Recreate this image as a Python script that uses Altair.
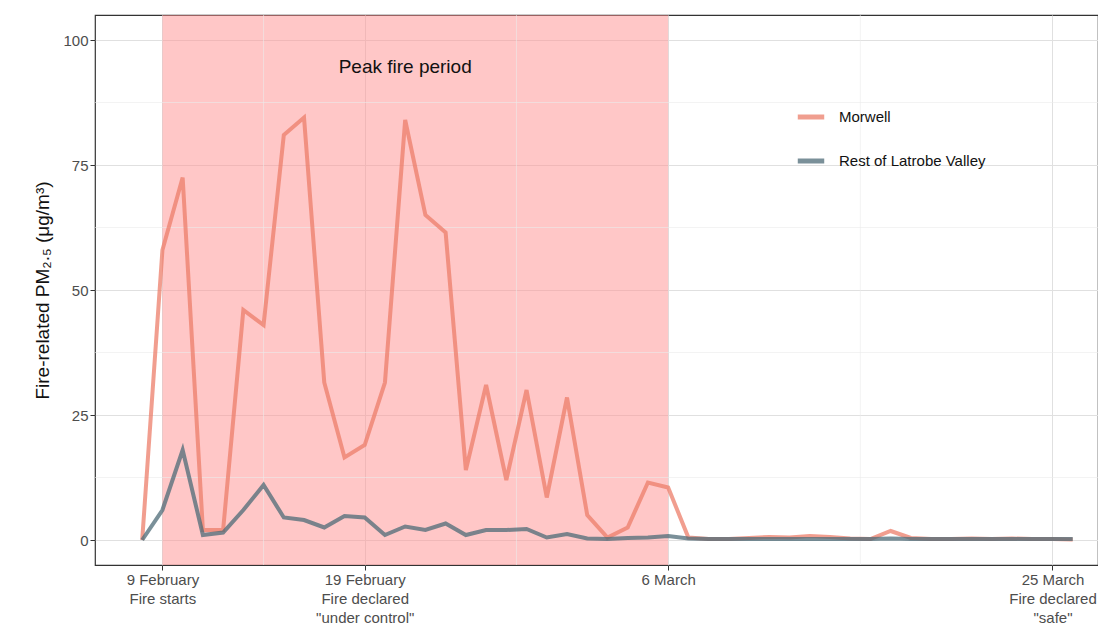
import pandas as pd
import altair as alt

# Daily fire-related PM2.5, 8 Feb - 26 Mar 2014
dates = pd.date_range('2014-02-08', '2014-03-26', freq='D').strftime('%Y-%m-%d').tolist()

morwell = [0, 58, 72.5, 2, 2, 46, 43, 81, 84.5, 31.5, 16.5, 19, 31.5, 84, 65, 61.5,
           14, 31, 12, 30, 8.5, 28.5, 5, 0.5, 2.5, 11.5, 10.5,
           0.5, 0.2, 0.2, 0.4, 0.6, 0.5, 0.8, 0.6, 0.3, 0.2, 1.8, 0.4, 0.2, 0.2,
           0.3, 0.2, 0.3, 0.2, 0.2, 0.1]
rest = [0, 6, 18, 1, 1.5, 6, 11, 4.5, 4, 2.5, 4.8, 4.5, 1, 2.7, 2, 3.3,
        1, 2, 2, 2.2, 0.5, 1.2, 0.3, 0.2, 0.4, 0.5, 0.8,
        0.3, 0.2, 0.2, 0.2, 0.2, 0.2, 0.2, 0.2, 0.2, 0.2, 0.3, 0.2, 0.2, 0.2,
        0.2, 0.2, 0.2, 0.2, 0.2, 0.2]

series = ['Morwell', 'Rest of Latrobe Valley']
colors = ['#EC7E6A', '#4E6B77']

minor_dates = ['2014-02-14', '2014-02-26T12:00', '2014-03-15T12:00']
y_minor = [12.5, 37.5, 62.5, 87.5]

df = pd.DataFrame({
    'date': dates * 2,
    'pm': morwell + rest,
    'series': [series[0]] * len(dates) + [series[1]] * len(dates),
})

x_dom = [alt.DateTime(year=2014, month=2, date=5, hours=16),
         alt.DateTime(year=2014, month=3, date=27, hours=6)]
x_scale = alt.Scale(domain=x_dom)
y_scale = alt.Scale(domain=[-5, 105], nice=False)

label_expr = (
    "utcFormat(datum.value, '%m-%d') == '02-09' ? ['9 February', 'Fire starts'] : "
    "utcFormat(datum.value, '%m-%d') == '02-19' ? ['19 February', 'Fire declared', '\"under control\"'] : "
    "utcFormat(datum.value, '%m-%d') == '03-06' ? ['6 March'] : "
    "['25 March', 'Fire declared', '\"safe\"']"
)

shade = alt.Chart(pd.DataFrame({'s': ['2014-02-09'], 'e': ['2014-03-06']})).mark_rect(
    color='#FF8F8F', opacity=0.5
).encode(
    x=alt.X('s:T', scale=x_scale), x2='e:T',
    y=alt.value(0), y2=alt.value(550)
)

minor_x = alt.Chart(pd.DataFrame({'d': minor_dates})).mark_rule(
    color='#ebebeb', strokeWidth=0.6
).encode(x=alt.X('d:T', scale=x_scale))

minor_y = alt.Chart(pd.DataFrame({'v': y_minor})).mark_rule(
    color='#ebebeb', strokeWidth=0.6
).encode(y=alt.Y('v:Q', scale=y_scale))

lines = alt.Chart(df).mark_line(strokeWidth=4, opacity=0.75).encode(
    x=alt.X('date:T', scale=x_scale, title=None,
            axis=alt.Axis(values=[alt.DateTime(year=2014, month=2, date=9),
                                  alt.DateTime(year=2014, month=2, date=19),
                                  alt.DateTime(year=2014, month=3, date=6),
                                  alt.DateTime(year=2014, month=3, date=25)],
                          labelExpr=label_expr, labelFontSize=15, labelColor='#4d4d4d',
                          gridColor='#e0e0e0', tickColor='#333', domain=False,
                          labelPadding=2, labelLineHeight=19)),
    y=alt.Y('pm:Q', scale=y_scale,
            title='Fire-related PM₂.₅ (μg/m³)',
            axis=alt.Axis(values=[0, 25, 50, 75, 100], labelFontSize=15,
                          labelColor='#4d4d4d', gridColor='#e0e0e0', tickColor='#333',
                          domain=False, titleFontSize=19, titleFontWeight='normal',
                          titleColor='#111', titlePadding=10)),
    color=alt.Color('series:N', scale=alt.Scale(domain=series, range=colors),
                    legend=alt.Legend(title=None, orient='none', legendX=700, legendY=86,
                                      symbolType='stroke', symbolStrokeWidth=5,
                                      symbolSize=700, labelFontSize=15, rowPadding=18,
                                      labelOffset=12, labelColor='#111'))
)

annot = alt.Chart(pd.DataFrame({'d': ['2014-02-21T00:00'], 't': ['Peak fire period']})).mark_text(
    fontSize=19, color='#111', font='Liberation Sans'
).encode(x=alt.X('d:T', scale=x_scale), y=alt.value(52), text='t:N')

chart = alt.layer(shade, minor_x, minor_y, lines, annot).properties(
    width=1003, height=550,
    autosize=alt.AutoSizeParams(type='none'),
    padding={'left': 87, 'top': 7, 'right': 0, 'bottom': 60},
).configure(font='Liberation Sans').configure_view(stroke='#333', strokeWidth=1.2)

chart.save("out.html", embed_options={"renderer": "svg", "actions": False})
